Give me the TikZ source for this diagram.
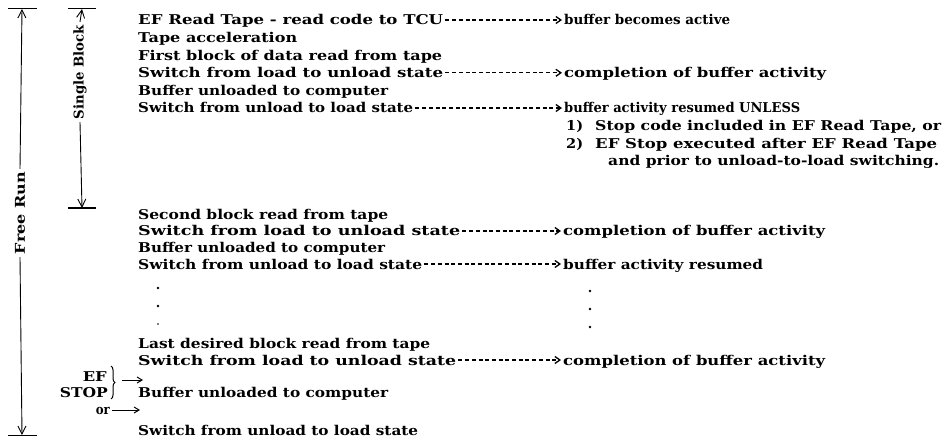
\documentclass[tikz,border=0pt]{standalone}
\usepackage{fontspec}
\usepackage{graphicx}
\setmainfont{DejaVu Serif}
\usetikzlibrary{arrows.meta,decorations.pathreplacing}
\newcommand\fw[2]{\resizebox{#1pt}{\height}{#2}}
\begin{document}
\begin{tikzpicture}[x=1pt,y=-1pt,
  txt/.style={anchor=base west, inner sep=0pt, font=\fontsize{13.5}{13.5}\selectfont\bfseries},
  lbl/.style={inner sep=3pt, rotate=90, font=\fontsize{13.5}{13.5}\selectfont\bfseries},
  dasharrow/.style={dashed, dash pattern=on 4pt off 2.7pt, line width=1.25pt, -{Straight Barb[length=5pt,width=7pt,line width=1.3pt]}},
  vline/.style={line width=0.9pt, -{Straight Barb[length=8pt,width=8pt]}},
  hbar/.style={line width=1pt},
  dotmark/.style={circle, fill, inner sep=0pt, minimum size=2.8pt}]
\useasboundingbox (0,0) rectangle (943,441);
% brackets
\coordinate (frt) at (22,9);
\coordinate (frb) at (22,435);
\coordinate (sbt) at (82,9);
\coordinate (sbb) at (82,208);
\draw[hbar] (8,9) -- (37,9);
\draw[hbar] (8,435) -- (37,435);
\draw[hbar] (68,9) -- (96,9);
\draw[hbar] (68,208) -- (96,208);
\node[lbl] (frl) at (20,213) {\fw{82}{Free Run}};
\node[lbl] (sbl) at (80,72) {\fw{94}{Single Block}};
\draw[vline] (frl.east) -- (frt);
\draw[vline] (frl.west) -- (frb);
\draw[vline] (sbl.east) -- (sbt);
\draw[vline] (sbl.west) -- (sbb);
% top group
\node[txt] (a1) at (138,25) {\fw{305}{EF Read Tape - read code to TCU}};
\node[txt] (a2) at (138,42.6) {\fw{159}{Tape acceleration}};
\node[txt] (a3) at (138,60.2) {\fw{304}{First block of data read from tape}};
\node[txt] (a4) at (138,77.8) {\fw{305}{Switch from load to unload state}};
\node[txt] (a5) at (138,95.4) {\fw{250}{Buffer unloaded to computer}};
\node[txt] (a6) at (138,113) {\fw{275}{Switch from unload to load state}};
\node[txt] (b1) at (564,25) {\fw{166}{buffer becomes active}};
\node[txt] (b4) at (564,77.8) {\fw{262}{completion of buffer activity}};
\node[txt] (b6) at (564,113) {\fw{236}{buffer activity resumed UNLESS}};
\node[txt] (n1) at (566,130.6) {\fw{17}{1)}};
\node[txt] (c1) at (595,130.6) {\fw{346}{Stop code included in EF Read Tape, or}};
\node[txt] (n2) at (566,148.2) {\fw{17}{2)}};
\node[txt] (c2) at (595,148.2) {\fw{342}{EF Stop executed after EF Read Tape}};
\node[txt] (c3) at (608,165.8) {\fw{331}{and prior to unload-to-load switching.}};
\draw[dasharrow] ([yshift=5pt,xshift=2pt]a1.base east) -- ([yshift=5pt,xshift=-2pt]b1.base west);
\draw[dasharrow] ([yshift=5pt,xshift=2pt]a4.base east) -- ([yshift=5pt,xshift=-2pt]b4.base west);
\draw[dasharrow] ([yshift=5pt,xshift=2pt]a6.base east) -- ([yshift=5pt,xshift=-2pt]b6.base west);
% second group
\node[txt] (d1) at (138,219) {\fw{250}{Second block read from tape}};
\node[txt] (d2) at (138,236) {\fw{322}{Switch from load to unload state}};
\node[txt] (d3) at (138,252.5) {\fw{247}{Buffer unloaded to computer}};
\node[txt] (d4) at (138,269) {\fw{284}{Switch from unload to load state}};
\node[txt] (e2) at (563,236) {\fw{262}{completion of buffer activity}};
\node[txt] (e4) at (563,269) {\fw{200}{buffer activity resumed}};
\draw[dasharrow] ([yshift=5pt,xshift=2pt]d2.base east) -- ([yshift=5pt,xshift=-2pt]e2.base west);
\draw[dasharrow] ([yshift=5pt,xshift=2pt]d4.base east) -- ([yshift=5pt,xshift=-2pt]e4.base west);
\node[dotmark] (ld1) at (158,288) {};
\node[dotmark] (ld2) at (158,306) {};
\node[dotmark, minimum size=1.6pt] (ld3) at (158,324) {};
\node[dotmark] (rd1) at (590,291) {};
\node[dotmark] (rd2) at (590,309) {};
\node[dotmark] (rd3) at (590,327) {};
\node[txt] (f1) at (138,348) {\fw{292}{Last desired block read from tape}};
\node[txt] (f2) at (138,365) {\fw{318}{Switch from load to unload state}};
\node[txt] (g2) at (563,365) {\fw{262}{completion of buffer activity}};
\draw[dasharrow] ([yshift=5pt,xshift=2pt]f2.base east) -- ([yshift=5pt,xshift=-2pt]g2.base west);
\node[txt, anchor=base east] (ef) at (107,381) {\fw{24}{EF}};
\node[txt, anchor=base east] (stop) at (108,397) {\fw{48}{STOP}};
\node[txt] (f3) at (138,397) {\fw{250}{Buffer unloaded to computer}};
\node[txt, anchor=base east] (or) at (110,414) {\fw{14}{or}};
\node[txt] (f4) at (138,435) {\fw{280}{Switch from unload to load state}};
\draw[decorate, decoration={brace, amplitude=4pt}, line width=1pt] (111,366) -- (111,399);
\coordinate (efs) at (122,380);
\coordinate (efe) at (143,380);
\draw[line width=1pt, -{Straight Barb[length=5pt,width=6pt]}] (efs) -- (efe);
\coordinate (ore) at (140,410);
\draw[line width=1pt, -{Straight Barb[length=5pt,width=6pt]}] ([xshift=2pt,yshift=4pt]or.base east) -- (ore);
\end{tikzpicture}
\end{document}
